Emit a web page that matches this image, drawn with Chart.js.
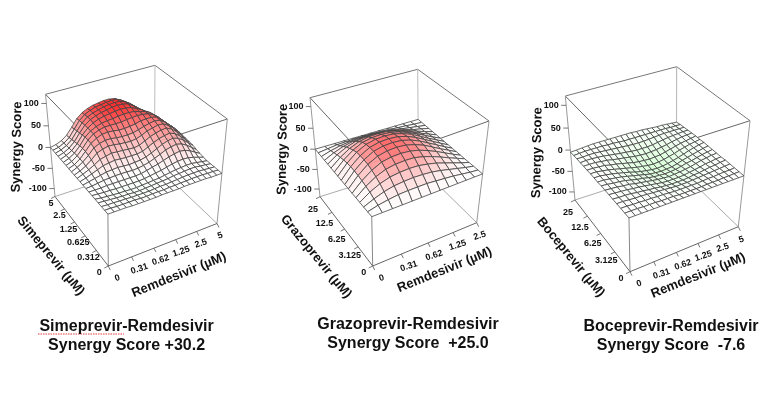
<!DOCTYPE html>
<html>
<head>
<meta charset="utf-8">
<title>Synergy surfaces</title>
<script src="https://cdn.jsdelivr.net/npm/chart.js@4"></script>
<style>
  html, body { margin: 0; padding: 0; background: #fff; }
  canvas { display: block; }
</style>
</head>
<body>
<canvas id="surfaces" width="770" height="420"></canvas>
<script>
// tick labels
const scoreTicks = [100, 50, 0, -50, -100];
const remdesivirTicks = ['0', '0.31', '0.62', '1.25', '2.5', '5'];
const remdesivirTicksShort = ['0', '0.31', '0.62', '1.25', '2.5'];
const simeprevirTicks = ['0', '0.312', '0.625', '1.25', '2.5', '5'];
const grazoprevirTicks = ['0', '3.125', '6.25', '12.5', '25'];
const boceprevirTicks = ['0', '3.125', '6.25', '12.5', '25'];

// synergy scores, rows go from lowest to highest protease inhibitor dose
const simeprevirScores = [
  [0,0,0,0,-1,-1,-1,-1,-1,0,0,0,0,1,1,1,1,1,0,0,0],
  [0,0,-1,-1,-1,-1,-2,-2,-1,-1,-1,0,0,1,1,2,2,2,1,1,0],
  [0,-1,-1,-2,-2,-3,-3,-3,-3,-2,-1,-1,0,1,2,3,3,3,2,1,0],
  [0,-1,-2,-3,-4,-4,-5,-5,-4,-3,-2,-1,0,2,3,4,5,5,3,2,0],
  [0,-2,-3,-4,-5,-5,-6,-6,-5,-4,-3,-2,0,2,4,5,6,6,4,2,0],
  [0,-1,-2,-2,-3,-3,-3,-3,-3,-2,0,2,4,7,10,12,13,12,9,5,1],
  [0,0,0,1,1,1,1,1,1,2,5,8,11,15,19,22,24,22,17,10,3],
  [0,1,3,5,6,7,7,7,6,7,9,12,17,22,28,31,33,30,23,14,5],
  [0,3,6,9,12,13,14,13,12,13,14,17,22,28,34,38,40,36,28,18,8],
  [0,4,9,14,19,21,23,22,21,21,21,23,29,35,40,43,45,40,31,20,9],
  [0,5,11,18,26,29,32,31,30,29,28,30,36,42,46,49,50,44,34,22,10],
  [0,5,12,22,33,38,41,40,38,37,36,38,42,48,51,54,53,46,36,24,11],
  [0,6,14,25,38,44,47,47,45,44,44,45,48,52,55,57,55,47,36,25,12],
  [0,5,14,27,41,49,54,55,54,52,52,53,55,58,59,59,56,46,35,24,11],
  [0,5,14,27,42,52,57,60,60,60,60,62,63,64,63,61,55,46,34,22,10],
  [0,5,13,26,42,52,58,62,64,65,67,68,68,67,63,60,54,44,32,20,9],
  [0,5,12,24,40,52,60,65,68,70,72,73,72,70,64,58,50,40,29,18,8],
  [0,4,11,22,38,52,61,66,70,72,75,76,75,72,64,55,45,35,25,15,7],
  [0,4,10,20,36,51,61,66,70,73,75,76,75,71,63,53,42,31,21,12,4],
  [0,3,9,18,34,50,60,66,70,72,74,75,74,68,60,50,39,28,18,10,3],
  [0,3,8,17,32,48,58,64,68,70,72,72,70,64,54,42,30,19,10,4,0]
];

const grazoprevirScores = [
  [0,0,0,0,0,0,0,0,0,0,0,0,0],
  [0,6,10,13,14,14,14,12,10,8,5,2,0],
  [0,10,18,23,25,26,25,23,19,14,9,4,0],
  [0,15,26,33,36,37,36,32,27,20,13,6,0],
  [0,18,32,41,45,46,45,40,33,25,16,8,0],
  [0,21,37,48,52,53,51,46,38,29,19,9,0],
  [0,23,41,52,57,58,56,50,42,31,20,10,0],
  [0,24,42,54,59,60,58,52,43,32,21,10,0],
  [0,24,42,54,59,60,58,52,43,32,21,10,0],
  [0,23,41,52,57,58,56,50,42,31,20,10,0],
  [0,21,37,48,52,53,51,46,38,29,19,9,0],
  [0,18,32,41,45,46,45,40,33,25,16,8,0],
  [0,15,26,33,36,37,36,32,27,20,13,6,0],
  [0,11,19,24,26,27,26,23,19,15,9,5,0],
  [0,7,12,15,17,17,16,15,12,9,6,3,0],
  [0,3,6,7,8,8,8,7,6,4,3,1,0],
  [0,0,0,0,0,0,0,0,0,0,0,0,0]
];

const boceprevirScores = [
  [0,0,0,0,0,0,0,0,0,0,0,0,0,0,0,0,0,0,0,0,0],
  [0,0,0,-1,-1,-1,-2,-2,-2,-3,-3,-3,-3,-3,-2,-2,-2,-1,-1,0,0],
  [0,0,-1,-1,-2,-2,-3,-3,-4,-5,-5,-5,-5,-5,-4,-3,-3,-2,-1,-1,0],
  [0,0,-1,-2,-2,-3,-4,-5,-6,-7,-8,-8,-8,-7,-6,-5,-4,-3,-2,-1,0],
  [0,-1,-1,-2,-4,-5,-7,-8,-10,-11,-12,-12,-12,-11,-9,-8,-6,-4,-3,-1,0],
  [0,-1,-2,-3,-5,-6,-8,-10,-12,-14,-15,-15,-15,-14,-12,-10,-8,-5,-4,-2,-1],
  [0,-1,-2,-4,-5,-8,-10,-12,-14,-16,-17,-18,-17,-16,-14,-12,-9,-6,-4,-2,-1],
  [0,-1,-3,-4,-6,-9,-12,-14,-17,-19,-20,-21,-20,-19,-16,-13,-11,-8,-5,-3,-1],
  [-1,-1,-3,-5,-7,-10,-13,-16,-19,-22,-23,-24,-23,-22,-19,-15,-12,-9,-6,-3,-1],
  [-1,-1,-3,-5,-8,-11,-14,-18,-21,-23,-25,-26,-25,-23,-20,-17,-13,-9,-6,-3,-1],
  [-1,-1,-3,-5,-8,-11,-14,-17,-20,-22,-24,-25,-24,-22,-19,-16,-12,-9,-6,-4,-2],
  [-2,-2,-3,-4,-7,-9,-12,-15,-18,-20,-21,-22,-21,-20,-17,-14,-11,-8,-6,-4,-2],
  [-2,-2,-2,-4,-5,-8,-10,-12,-14,-16,-17,-18,-17,-16,-14,-12,-9,-7,-5,-4,-3],
  [-3,-2,-2,-3,-4,-6,-8,-10,-11,-13,-14,-14,-14,-13,-11,-9,-7,-6,-5,-4,-4],
  [-3,-3,-2,-2,-3,-4,-5,-6,-7,-8,-9,-9,-9,-8,-7,-6,-5,-5,-5,-5,-5],
  [-4,-3,-2,-2,-2,-2,-3,-3,-4,-5,-5,-5,-5,-5,-5,-5,-5,-5,-6,-6,-6],
  [-5,-4,-3,-2,-1,-1,-1,-1,-1,-1,-1,-1,-2,-2,-3,-4,-5,-5,-6,-7,-8]
];

// where each 3d box sits on the page
const panels = [
  {
    scores: simeprevirScores, xTicks: remdesivirTicks, yTicks: simeprevirTicks,
    yName: 'Simeprevir (\u00b5M)', title: ['Simeprevir-Remdesivir', 'Synergy Score +30.2'],
    fb: [108.3, 266], br: [217, 223.5], bl: [55, 196.5], bb: [154.4, 164],
    ft: [107.5, 158], tr: [227.3, 119], tl: [45.5, 94.3], tb: [155, 65.3],
    scoreAt: [17, 147], yNameAt: [50.7, 256], xNameAt: [179, 275],
    xOff: [9, 12], xOffEnd: [3, 12], yOff: [-9, 7], yOffEnd: [-4, 7],
    titleX: 126.6, titleY: [331.7, 350.7]
  },
  {
    scores: grazoprevirScores, xTicks: remdesivirTicksShort, yTicks: grazoprevirTicks,
    yName: 'Grazoprevir (\u00b5M)', title: ['Grazoprevir-Remdesivir', 'Synergy Score  +25.0'],
    fb: [372.7, 266], br: [476.7, 222.7], bl: [320, 196.7], bb: [418.5, 165.6],
    ft: [370.7, 163.3], tr: [489, 121], tl: [310, 97.7], tb: [417.7, 69.3],
    scoreAt: [282.7, 149.3], yNameAt: [316, 256.7], xNameAt: [444.7, 270],
    xOff: [9, 12], xOffEnd: [3, 13], yOff: [-9, 7], yOffEnd: [-7, 13],
    titleX: 408, titleY: [330, 349]
  },
  {
    scores: boceprevirScores, xTicks: remdesivirTicks, yTicks: boceprevirTicks,
    yName: 'Boceprevir (\u00b5M)', title: ['Boceprevir-Remdesivir', 'Synergy Score  -7.6'],
    fb: [630, 271.7], br: [738.3, 226.7], bl: [575, 200], bb: [676.5, 167],
    ft: [627.8, 159.7], tr: [750, 120.7], tl: [565.3, 96], tb: [676.7, 66.7],
    scoreAt: [537.3, 152.7], yNameAt: [570.7, 257.3], xNameAt: [698.3, 275.7],
    xOff: [9, 12], xOffEnd: [3, 13], yOff: [-9, 7], yOffEnd: [-7, 13],
    titleX: 671, titleY: [332, 351]
  }
];

const SCORE_MIN = -120, SCORE_MAX = 120;

// unit square onto a quad, keeps the perspective of the floor and ceiling
function quadPoint(a, b, c, d, u, v) {
  // a=(0,0) b=(1,0) c=(0,1) d=(1,1)
  const dx1 = b[0] - d[0], dx2 = c[0] - d[0], sx = a[0] - b[0] + d[0] - c[0];
  const dy1 = b[1] - d[1], dy2 = c[1] - d[1], sy = a[1] - b[1] + d[1] - c[1];
  const den = dx1 * dy2 - dx2 * dy1;
  const g = (sx * dy2 - dx2 * sy) / den;
  const h = (dx1 * sy - sx * dy1) / den;
  const m = g * u + h * v + 1;
  return [
    (b[0] - a[0] + g * b[0]) * u / m + (c[0] - a[0] + h * c[0]) * v / m + a[0] / m,
    (b[1] - a[1] + g * b[1]) * u / m + (c[1] - a[1] + h * c[1]) * v / m + a[1] / m
  ];
}

function project(p, u, v, score) {
  const t = (score - SCORE_MIN) / (SCORE_MAX - SCORE_MIN);
  const w = t / (1.083 - 0.083 * t);
  const lo = quadPoint(p.fb, p.br, p.bl, p.bb, u, v);
  const hi = quadPoint(p.ft, p.tr, p.tl, p.tb, u, v);
  return { x: lo[0] + (hi[0] - lo[0]) * w, y: lo[1] + (hi[1] - lo[1]) * w };
}

function cellColor(score) {
  if (score >= 0) {
    const c = Math.round(255 * (1 - Math.min(1, Math.pow(score / 82, 1.5))));
    return `rgba(255,${c},${c},0.92)`;
  }
  const c = Math.round(255 * (1 + score / 160));
  return `rgba(${c},255,${c},0.92)`;
}

function lineSet(points, color, width) {
  return { data: points, showLine: true, fill: false, borderColor: color, borderWidth: width, pointRadius: 0, tension: 0 };
}

const drawList = [];
panels.forEach(p => {
  const pt = xy => ({ x: xy[0], y: xy[1] });
  // back of the box
  drawList.push(lineSet([pt(p.tl), pt(p.tb), pt(p.tr)], '#777', 1));
  drawList.push(lineSet([pt(p.tb), pt(p.bb)], '#bbb', 1));
  drawList.push(lineSet([pt(p.bl), pt(p.bb), pt(p.br)], '#aaa', 1));
  drawList.push(lineSet([pt(p.tl), pt(p.ft), pt(p.tr)], '#666', 1));
  drawList.push(lineSet([pt(p.tl), pt(p.bl)], '#999', 1));
  drawList.push(lineSet([pt(p.tr), pt(p.br)], '#999', 1));
  drawList.push(lineSet([pt(p.ft), pt(p.fb)], '#888', 1));
  drawList.push(lineSet([pt(p.bl), pt(p.fb), pt(p.br)], '#666', 1));

  // tick marks
  scoreTicks.forEach(s => {
    const a = project(p, 0, 1, s);
    drawList.push(lineSet([a, { x: a.x - 5, y: a.y }], '#555', 0.8));
  });
  p.xTicks.forEach((_, k) => {
    const a = project(p, k / (p.xTicks.length - 1), 0, SCORE_MIN);
    drawList.push(lineSet([a, { x: a.x + 2, y: a.y + 4 }], '#555', 0.8));
  });
  p.yTicks.forEach((_, k) => {
    const a = project(p, 0, k / (p.yTicks.length - 1), SCORE_MIN);
    drawList.push(lineSet([a, { x: a.x - 4, y: a.y + 2 }], '#555', 0.8));
  });

  // surface, far corner first
  const rows = p.scores.length, cols = p.scores[0].length;
  const cells = [];
  for (let j = 0; j < rows - 1; j++) {
    for (let i = 0; i < cols - 1; i++) cells.push([i, j]);
  }
  cells.sort((a, b) => (b[0] + b[1]) - (a[0] + a[1]));
  cells.forEach(([i, j]) => {
    const s = p.scores;
    const at = (ii, jj) => project(p, ii / (cols - 1), jj / (rows - 1), s[jj][ii]);
    const mean = (s[j][i] + s[j][i + 1] + s[j + 1][i] + s[j + 1][i + 1]) / 4;
    const set = lineSet([at(i, j), at(i + 1, j), at(i + 1, j + 1), at(i, j + 1), at(i, j)], '#444', 0.8);
    set.backgroundColor = cellColor(mean);
    set.isCell = true;
    drawList.push(set);
  });
});

const cellFillPlugin = {
  id: 'cellFill',
  beforeDatasetDraw(chart, args) {
    const ds = chart.data.datasets[args.index];
    if (!ds.isCell) return;
    const pts = args.meta.data, ctx = chart.ctx;
    ctx.save();
    ctx.beginPath();
    pts.forEach((e, n) => n ? ctx.lineTo(e.x, e.y) : ctx.moveTo(e.x, e.y));
    ctx.closePath();
    ctx.fillStyle = ds.backgroundColor;
    ctx.fill();
    ctx.restore();
  }
};

const textPlugin = {
  id: 'boxText',
  afterDraw(chart) {
    const ctx = chart.ctx, sx = chart.scales.x, sy = chart.scales.y;
    // the red squiggle under the first name
    ctx.save();
    ctx.strokeStyle = '#e8383a';
    ctx.lineWidth = 1;
    ctx.setLineDash([1.5, 1]);
    ctx.beginPath();
    ctx.moveTo(sx.getPixelForValue(38), sy.getPixelForValue(334));
    ctx.lineTo(sx.getPixelForValue(124), sy.getPixelForValue(334));
    ctx.stroke();
    ctx.restore();

    const put = (str, x, y, size, angle, align) => {
      ctx.save();
      ctx.translate(sx.getPixelForValue(x), sy.getPixelForValue(y));
      ctx.rotate(angle * Math.PI / 180);
      ctx.font = `bold ${size}px "Liberation Sans", Arial, sans-serif`;
      ctx.fillStyle = '#111';
      ctx.textAlign = align || 'center';
      ctx.textBaseline = 'middle';
      ctx.fillText(str, 0, 0);
      ctx.restore();
    };
    panels.forEach(p => {
      scoreTicks.forEach(s => {
        const a = project(p, 0, 1, s);
        put(String(s), a.x - 7.5, a.y, 9, 0, 'right');
      });
      p.xTicks.forEach((label, k) => {
        const f = k / (p.xTicks.length - 1);
        const a = project(p, f, 0, SCORE_MIN);
        const ox = p.xOff[0] + (p.xOffEnd[0] - p.xOff[0]) * f;
        const oy = p.xOff[1] + (p.xOffEnd[1] - p.xOff[1]) * f;
        put(label, a.x + ox, a.y + oy, 9, -18);
      });
      p.yTicks.forEach((label, k) => {
        const f = k / (p.yTicks.length - 1);
        const a = project(p, 0, f, SCORE_MIN);
        const ox = p.yOff[0] + (p.yOffEnd[0] - p.yOff[0]) * f;
        const oy = p.yOff[1] + (p.yOffEnd[1] - p.yOff[1]) * f;
        put(label, a.x + ox, a.y + oy, 9, 0);
      });
      put('Synergy Score', p.scoreAt[0], p.scoreAt[1], 13, -89);
      put(p.yName, p.yNameAt[0], p.yNameAt[1], 13, 50.5);
      put('Remdesivir (\u00b5M)', p.xNameAt[0], p.xNameAt[1], 13, -22);
      put(p.title[0], p.titleX, p.titleY[0] - 5.5, 16, 0);
      put(p.title[1], p.titleX, p.titleY[1] - 5.5, 16, 0);
    });
  }
};

new Chart(document.getElementById('surfaces'), {
  type: 'scatter',
  data: { datasets: drawList.slice().reverse() },
  plugins: [cellFillPlugin, textPlugin],
  options: {
    responsive: false,
    animation: false,
    events: [],
    layout: { padding: 0 },
    plugins: { legend: { display: false }, tooltip: { enabled: false }, title: { display: false } },
    scales: {
      x: { type: 'linear', min: 0, max: 770, display: false },
      y: { type: 'linear', min: 0, max: 420, reverse: true, display: false }
    }
  }
});
</script>
</body>
</html>
